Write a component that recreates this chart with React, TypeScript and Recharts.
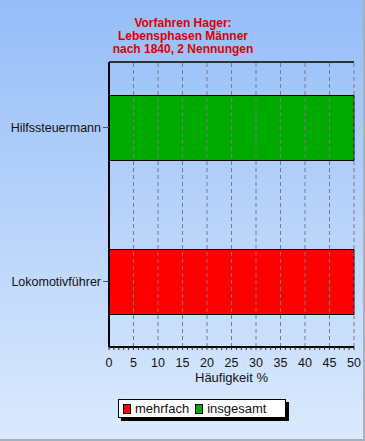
import React from "react";
import {
  BarChart,
  Bar,
  XAxis,
  YAxis,
  Legend,
  ReferenceLine,
} from "recharts";

// Kategorien und Werte (Häufigkeit in %)
const berufe = ["Hilfssteuermann", "Lokomotivführer"];
const mehrfach = [0, 50];
const insgesamt = [50, 0];
const serienReihenfolge = ["mehrfach", "insgesamt"];

const titelZeilen = ["Vorfahren Hager:", "Lebensphasen Männer", "nach 1840, 2 Nennungen"];

const hauptTicks = [0, 5, 10, 15, 20, 25, 30, 35, 40, 45, 50];
const kleineTicks = [
  0, 1, 2, 3, 4, 5, 6, 7, 8, 9, 10, 11, 12, 13, 14, 15, 16, 17, 18, 19, 20,
  21, 22, 23, 24, 25, 26, 27, 28, 29, 30, 31, 32, 33, 34, 35, 36, 37, 38, 39, 40,
  41, 42, 43, 44, 45, 46, 47, 48, 49, 50,
];
const gitterLinien = [5, 10, 15, 20, 25, 30, 35, 40, 45, 50];

const FONT = '"Liberation Sans", Arial, sans-serif';

const data = berufe.map((name, i) => ({
  name,
  mehrfach: mehrfach[i],
  insgesamt: insgesamt[i],
}));

function XTick(props: any) {
  const { x, y, payload } = props;
  if (!hauptTicks.includes(payload.value)) return null;
  return (
    <text x={x} y={y} dy="0.71em" textAnchor="middle" fill="#111" fontSize={12.5} fontFamily={FONT}>
      {payload.value}
    </text>
  );
}

function LegendBox(props: any) {
  const items = [...(props.payload || [])].sort(
    (a: any, b: any) => serienReihenfolge.indexOf(a.value) - serienReihenfolge.indexOf(b.value)
  );
  return (
    <div
      style={{
        display: "flex",
        alignItems: "center",
        height: 17,
        width: 166,
        border: "1px solid #000",
        background: "#fff",
        boxShadow: "3px 3px 0 #000",
        fontFamily: FONT,
        fontSize: 13,
        color: "#111",
      }}
    >
      {items.map((it: any) => (
        <div key={it.value} style={{ display: "flex", alignItems: "center", marginLeft: 4, marginRight: 2 }}>
          <span
            style={{
              display: "inline-block",
              width: 6,
              height: 8,
              background: it.color,
              border: "1px solid #000",
              marginRight: 4,
            }}
          />
          <span>{it.value}</span>
        </div>
      ))}
    </div>
  );
}

export default function App() {
  return (
    <div
      style={{
        position: "absolute",
        top: 0,
        left: 0,
        width: 365,
        height: 441,
        background: "linear-gradient(to bottom, #95bdf8, #dbeafd)",
        overflow: "hidden",
      }}
    >
      <div
        style={{
          position: "absolute",
          top: 17,
          left: 83,
          width: 200,
          textAlign: "center",
          color: "#dd0000",
          fontFamily: FONT,
          fontWeight: "bold",
          fontSize: 12,
          lineHeight: "13px",
        }}
      >
        {titelZeilen.map((z) => (
          <div key={z}>{z}</div>
        ))}
      </div>
      <BarChart
        width={365}
        height={441}
        data={data}
        layout="vertical"
        margin={{ top: 61, right: 11, left: 0, bottom: 59 }}
      >
        <XAxis
          type="number"
          domain={[0, 50]}
          ticks={kleineTicks}
          interval={0}
          tick={<XTick />}
          tickSize={3}
          tickMargin={8}
          tickLine={{ stroke: "#333" }}
          axisLine={{ stroke: "#000", strokeWidth: 2 }}
          height={35}
          label={{
            value: "Häufigkeit %",
            position: "insideBottom",
            offset: 0,
            fill: "#111",
            fontSize: 13,
            fontFamily: FONT,
          }}
        />
        <XAxis
          xAxisId="oben"
          type="number"
          orientation="top"
          domain={[0, 50]}
          ticks={[0, 50]}
          tick={false}
          tickLine={false}
          height={1}
          axisLine={{ stroke: "#000", strokeWidth: 1.5 }}
        />
        <YAxis
          type="category"
          dataKey="name"
          width={109}
          padding={{ top: -11.5, bottom: -11.5 }}
          tickSize={6}
          tickMargin={2}
          tickLine={{ stroke: "#555" }}
          axisLine={{ stroke: "#000", strokeWidth: 2 }}
          tick={{ fill: "#111", fontSize: 12.5, fontFamily: FONT }}
        />
        {gitterLinien.map((v) => (
          <ReferenceLine key={v} x={v} stroke="#7a7a8a" strokeDasharray="4 3" />
        ))}
        <Legend
          layout="horizontal"
          verticalAlign="middle"
          align="center"
          content={<LegendBox />}
          wrapperStyle={{ left: 118, top: 399, width: 172, height: 22 }}
        />
        <Bar dataKey="mehrfach" name="mehrfach" stackId="a" fill="#ff0000" stroke="#000" strokeWidth={1} barSize={65} isAnimationActive={false} />
        <Bar dataKey="insgesamt" name="insgesamt" stackId="a" fill="#00aa00" stroke="#000" strokeWidth={1} barSize={65} isAnimationActive={false} />
      </BarChart>
      <div
        style={{
          position: "absolute",
          top: 0,
          left: 0,
          width: 363,
          height: 439,
          borderRight: "2px solid #a8b0bc",
          borderBottom: "2px solid #a8b0bc",
          pointerEvents: "none",
        }}
      />
    </div>
  );
}
